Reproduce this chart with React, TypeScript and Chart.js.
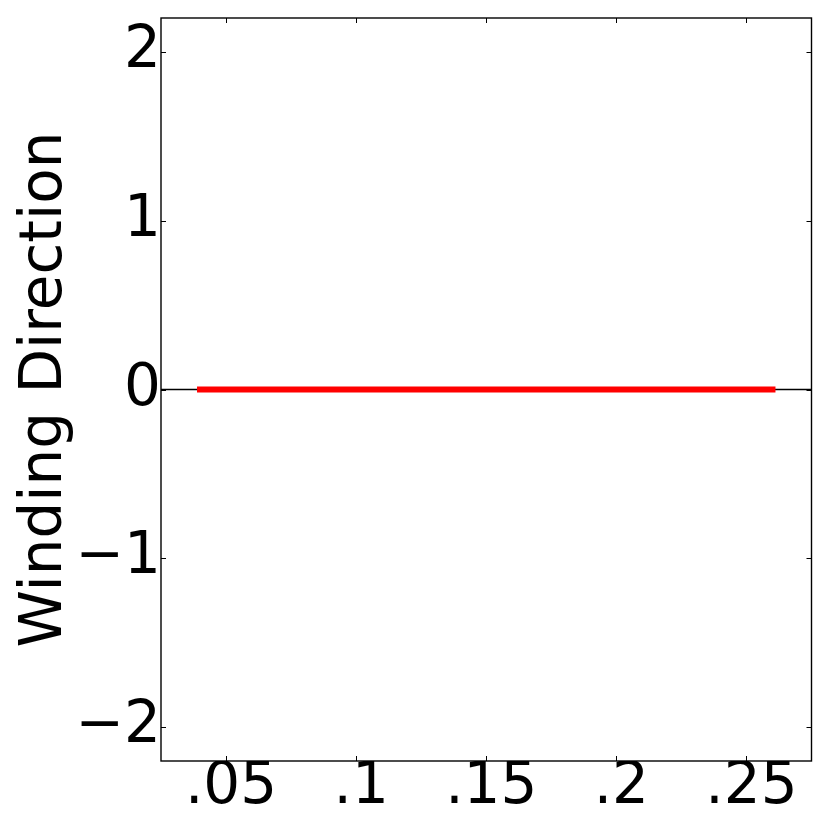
import React, { useEffect, useRef } from "react";
import { Chart, registerables } from "chart.js";

Chart.register(...registerables);

const xTickValues = [0.05, 0.1, 0.15, 0.2, 0.25];
const xTickLabels = [".05", ".1", ".15", ".2", ".25"];
const yTickValues = [-2, -1, 0, 1, 2];
const yTickLabels = ["\u22122", "\u22121", "0", "1", "2"];
const xRange = [0.025, 0.275];
const yRange = [-2.2, 2.2];
const windingX = [0.04, 0.26];
const windingY = [0, 0];
const zeroLineX = [0.025, 0.275];
const zeroLineY = [0, 0];

const FONT = "'DejaVu Sans', sans-serif";

const framePlugin = {
  id: "frame",
  afterDraw(chart: any) {
    const { ctx, chartArea: a, scales } = chart;
    const x = scales.x;
    const y = scales.y;
    ctx.save();
    ctx.strokeStyle = "#000";
    ctx.lineWidth = 1;
    const L = 5;
    ctx.beginPath();
    for (const v of xTickValues) {
      const px = Math.round(x.getPixelForValue(v)) + 0.5;
      ctx.moveTo(px, a.bottom);
      ctx.lineTo(px, a.bottom - L);
      ctx.moveTo(px, a.top);
      ctx.lineTo(px, a.top + L);
    }
    for (const v of yTickValues) {
      const py = Math.round(y.getPixelForValue(v)) + 0.5;
      ctx.moveTo(a.left, py);
      ctx.lineTo(a.left + L, py);
      ctx.moveTo(a.right, py);
      ctx.lineTo(a.right - L, py);
    }
    ctx.stroke();
    ctx.lineWidth = 1.4;
    ctx.strokeRect(a.left, a.top, a.right - a.left, a.bottom - a.top);
    ctx.restore();
  },
};

export default function App() {
  const ref = useRef<HTMLCanvasElement | null>(null);

  useEffect(() => {
    if (!ref.current) return;
    const chart = new Chart(ref.current, {
      type: "line",
      data: {
        datasets: [
          {
            label: "zero",
            data: zeroLineX.map((x, i) => ({ x, y: zeroLineY[i] })),
            borderColor: "#000",
            borderWidth: 1.5,
            pointRadius: 0,
            fill: false,
            order: 2,
          },
          {
            label: "Winding Direction",
            data: windingX.map((x, i) => ({ x, y: windingY[i] })),
            borderColor: "#ff0000",
            borderWidth: 6,
            pointRadius: 0,
            fill: false,
            borderCapStyle: "square",
            order: 1,
          },
        ],
      },
      options: {
        animation: false,
        responsive: true,
        maintainAspectRatio: false,
        layout: { padding: { top: 18, right: 18.5, left: 0, bottom: 0 } },
        plugins: {
          legend: { display: false },
          tooltip: { enabled: false },
        },
        scales: {
          x: {
            type: "linear",
            min: xRange[0],
            max: xRange[1],
            grid: { display: false, drawTicks: false },
            border: { display: false },
            afterBuildTicks: (s: any) => {
              s.ticks = xTickValues.map((v) => ({ value: v }));
            },
            afterFit: (s: any) => {
              s.height = 69;
              s.paddingLeft = 0;
              s.paddingRight = 0;
            },
            ticks: {
              autoSkip: false,
              maxRotation: 0,
              padding: -8,
              labelOffset: 5,
              color: "#000",
              font: { family: FONT, size: 58 },
              callback: (v: any) => {
                const i = xTickValues.findIndex((t) => Math.abs(t - Number(v)) < 1e-9);
                return i >= 0 ? xTickLabels[i] : "";
              },
            },
          },
          y: {
            type: "linear",
            min: yRange[0],
            max: yRange[1],
            grid: { display: false, drawTicks: false },
            border: { display: false },
            afterBuildTicks: (s: any) => {
              s.ticks = yTickValues.map((v) => ({ value: v }));
            },
            afterFit: (s: any) => {
              s.width = 161;
              s.paddingTop = 0;
              s.paddingBottom = 0;
            },
            title: {
              display: true,
              text: "Winding Direction",
              color: "#000",
              font: { family: FONT, size: 58 },
              padding: { top: 11, bottom: 0 },
            },
            ticks: {
              autoSkip: false,
              padding: 0,
              color: "#000",
              font: { family: FONT, size: 58 },
              callback: (v: any) => {
                const i = yTickValues.findIndex((t) => Math.abs(t - Number(v)) < 1e-9);
                return i >= 0 ? yTickLabels[i] : "";
              },
            },
          },
        },
      },
      plugins: [framePlugin],
    });
    return () => chart.destroy();
  }, []);

  return (
    <div style={{ position: "absolute", left: 0, top: 0, width: 830, height: 830, background: "#fff" }}>
      <canvas ref={ref} />
    </div>
  );
}
